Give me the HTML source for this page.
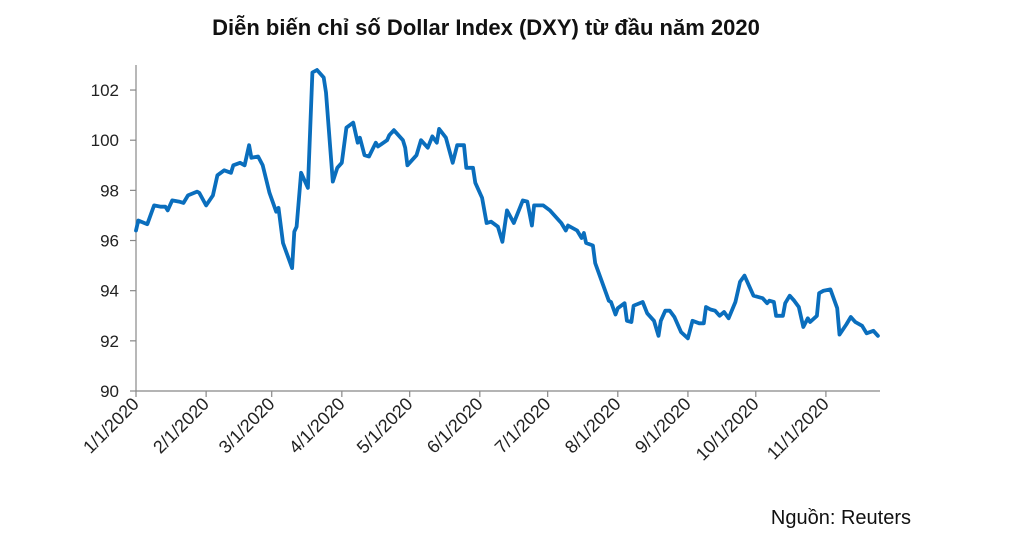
<!DOCTYPE html>
<html><head><meta charset="utf-8"><style>
body{margin:0;background:#fff;}
svg{display:block;font-family:"Liberation Sans",sans-serif;}
</style></head><body>
<svg width="1024" height="536" viewBox="0 0 1024 536" id="chart">
<text x="486" y="35" text-anchor="middle" font-size="22" font-weight="bold" fill="#111">Diễn biến chỉ số Dollar Index (DXY) từ đầu năm 2020</text>
<text x="911" y="524" text-anchor="end" font-size="20" fill="#111">Nguồn: Reuters</text>
<g id="axes"></g>
<g id="plot"></g>
</svg>
<script>
const days=[0,1,5,8,11,13,14,16,19,21,23,27,28,31,34,36,39,42,43,46,48,50,51,54,56,59,62,63,65,69,70,71,73,76,78,80,83,84,87,89,91,93,96,98,99,101,103,106,107,111,112,114,118,119,120,124,126,129,131,133,134,137,140,142,145,146,149,150,153,155,157,160,162,164,167,171,173,175,176,180,183,187,188,190,191,195,197,198,199,202,203,209,210,212,213,216,217,219,220,224,226,229,231,232,234,236,238,241,244,246,249,251,252,254,256,258,260,262,265,267,269,271,273,275,277,279,280,282,283,286,287,289,291,293,295,297,298,301,302,304,307,310,311,314,316,318,321,323,326,328];
const values=[96.4,96.8,96.65,97.4,97.35,97.35,97.2,97.6,97.55,97.5,97.8,97.95,97.9,97.4,97.8,98.6,98.8,98.7,99.0,99.1,99.0,99.8,99.3,99.35,99.0,97.9,97.15,97.3,95.9,94.9,96.35,96.55,98.7,98.1,102.7,102.8,102.5,101.9,98.35,98.9,99.1,100.5,100.7,99.9,100.1,99.4,99.35,99.9,99.75,100.0,100.2,100.4,100.0,99.7,99.0,99.4,100.0,99.7,100.15,99.9,100.45,100.1,99.1,99.8,99.8,98.9,98.9,98.3,97.7,96.7,96.75,96.55,95.95,97.2,96.7,97.6,97.55,96.6,97.4,97.4,97.2,96.8,96.7,96.4,96.6,96.4,96.1,96.3,95.9,95.8,95.1,93.6,93.55,93.05,93.3,93.5,92.8,92.75,93.4,93.55,93.1,92.8,92.2,92.8,93.2,93.2,92.95,92.35,92.1,92.8,92.7,92.7,93.35,93.25,93.2,93.0,93.15,92.9,93.55,94.35,94.6,94.2,93.8,93.75,93.7,93.5,93.6,93.55,93.0,93.0,93.5,93.8,93.6,93.35,92.55,92.9,92.75,93.0,93.9,94.0,94.05,93.3,92.25,92.65,92.95,92.75,92.6,92.3,92.4,92.2];
const yTicks=[90,92,94,96,98,100,102];
const xTickDays=[0,31,60,91,121,152,182,213,244,274,305];
const xTickLabels=["1/1/2020","2/1/2020","3/1/2020","4/1/2020","5/1/2020","6/1/2020","7/1/2020","8/1/2020","9/1/2020","10/1/2020","11/1/2020"];
const NS="http://www.w3.org/2000/svg";
const X=d=>136+d*2.262;
const Y=v=>391-(v-90)*25.08;
const axes=document.getElementById('axes'),plot=document.getElementById('plot');
function mk(tag,attrs,parent){const e=document.createElementNS(NS,tag);for(const k in attrs)e.setAttribute(k,attrs[k]);parent.appendChild(e);return e;}
let a=mk('line',{x1:136,y1:65,x2:136,y2:391,stroke:'#888','stroke-width':1.2},axes);


a=mk('line',{x1:136,y1:391,x2:880,y2:391,stroke:'#888','stroke-width':1.2},axes);


yTicks.forEach(v=>{
 const t=mk('line',{x1:130,y1:Y(v),x2:136,y2:Y(v),stroke:'#888','stroke-width':1.2},axes);
 
 
 const l=mk('text',{x:119,y:Y(v)+6,'text-anchor':'end','font-size':17,fill:'#222'},axes);
 l.textContent=v;
 
 
});
xTickDays.forEach((d,i)=>{
 const x=X(d);
 const t=mk('line',{x1:x,y1:391,x2:x,y2:397,stroke:'#888','stroke-width':1.2},axes);
 
 
 const l=mk('text',{x:x+4,y:405,'text-anchor':'end','font-size':18,fill:'#222',transform:`rotate(-45 ${x+4} 405)`},axes);
 l.textContent=xTickLabels[i];
 
 
});
const p=mk('path',{d:days.map((d,i)=>(i?'L':'M')+X(d).toFixed(1)+','+Y(values[i]).toFixed(1)).join(''),fill:'none',stroke:'#0A6EBD','stroke-width':3.8,'stroke-linejoin':'round','stroke-linecap':'round'},plot);


</script>
</body></html>
